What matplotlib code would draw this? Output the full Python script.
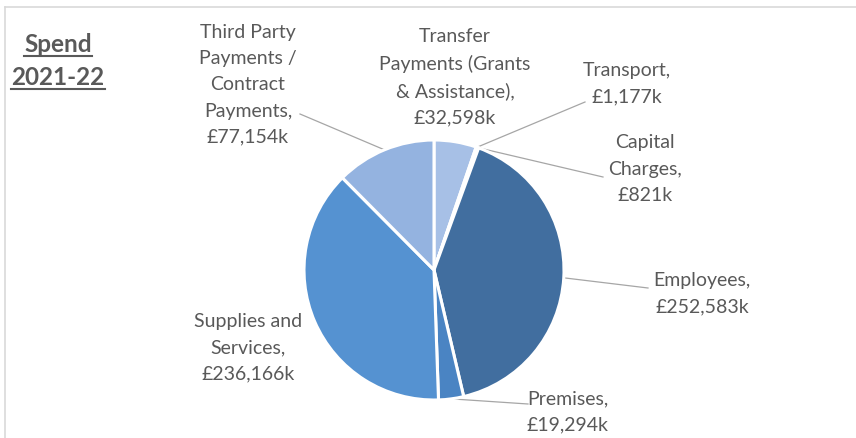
import matplotlib
matplotlib.use("Agg")
import matplotlib.pyplot as plt
import numpy as np

plt.rcParams['font.family'] = ['Lato', 'DejaVu Sans']

# Spend by category, £ thousands (clockwise from 12 o'clock)
categories = ["Transfer\nPayments (Grants\n& Assistance)", "Transport", "Capital\nCharges",
              "Employees", "Premises", "Supplies and\nServices",
              "Third Party\nPayments /\nContract\nPayments"]
values = [32598, 1177, 821, 252583, 19294, 236166, 77154]
colors = ["#A7C0E6", "#C3D4EE", "#D3E0F3", "#416E9F", "#4A84C3", "#5592D1", "#94B3E0"]

W, H = 856, 438
fig = plt.figure(figsize=(W / 100, H / 100), dpi=100)
ax = fig.add_axes([0, 0, 1, 1])


def P(x, y):
    """Image-style coordinates (origin top-left) to data coordinates."""
    return (x, H - y)


cx, cy = P(434, 270)
R = 130
wedges, _ = ax.pie(values, colors=colors, startangle=90, counterclock=False,
                   center=(cx, cy), radius=R, frame=True,
                   wedgeprops=dict(edgecolor='white', linewidth=2.2))
ax.set_xlim(0, W)
ax.set_ylim(0, H)
ax.set_aspect('equal')
ax.axis('off')

# frame lines along the top and left
ax.plot([5, W], [H - 7, H - 7], color='#D9D9D9', lw=1.2)
ax.plot([5, 5], [0, H - 7], color='#D9D9D9', lw=1.2)

text_col = '#595959'
fs = 14


def fmt(v):
    return f"£{v:,}k"


# label centre positions and optional leader-line knee (image coordinates)
label_pos = {
    0: ((455, 77), None),
    1: ((627, 84), (585, 102)),
    2: ((645, 169), (603, 177)),
    3: ((702, 294), (648, 288)),
    4: ((568, 412), (528, 404)),
    5: ((248, 348), None),
    6: ((248, 85), (300, 114)),
}

for i, w in enumerate(wedges):
    mid = np.deg2rad((w.theta1 + w.theta2) / 2)
    ex, ey = cx + R * np.cos(mid), cy + R * np.sin(mid)
    (lx, ly), knee = label_pos[i]
    name = categories[i].split('\n')
    name[-1] = name[-1] + ','
    txt = '\n'.join(name) + '\n' + fmt(values[i])
    ax.text(*P(lx, ly), txt, ha='center', va='center', fontsize=fs,
            color=text_col, linespacing=1.65)
    if knee is not None:
        kx, ky = P(*knee)
        ax.plot([ex, kx], [ey, ky], color='#A6A6A6', lw=0.9, zorder=0.5)

# title with underlined lines
title_lines = [("Spend", 52), ("2021-22", 85)]
fig.canvas.draw()
renderer = fig.canvas.get_renderer()
inv = ax.transData.inverted()
for s, y in title_lines:
    t = ax.text(*P(58, y), s, ha='center', va='baseline', fontsize=17.5,
                fontweight='bold', color=text_col)
    bb = t.get_window_extent(renderer)
    (x0, _), (x1, _) = inv.transform([(bb.x0, bb.y0), (bb.x1, bb.y1)])
    ax.plot([x0, x1], [H - y - 4, H - y - 4], color=text_col, lw=1.5)

fig.savefig('out.png', dpi=100)
